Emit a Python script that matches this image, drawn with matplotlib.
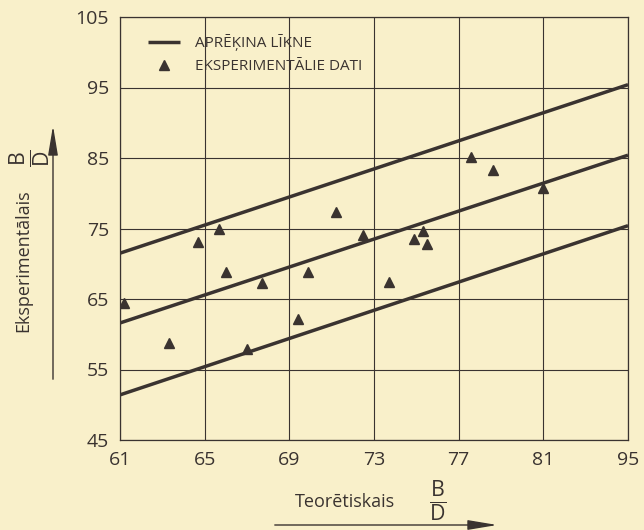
import matplotlib
matplotlib.use("Agg")
import matplotlib.pyplot as plt

# x ticks: evenly spaced, last label printed as 95 in the original
x_ticks = [61, 65, 69, 73, 77, 81, 85]
x_tick_labels = ["61", "65", "69", "73", "77", "81", "95"]
y_ticks = [45, 55, 65, 75, 85, 95, 105]

# calculated curves (three straight lines), endpoints
line_x = [61, 85]
line_upper = [71.5, 95.4]
line_middle = [61.6, 85.4]
line_lower = [51.4, 75.4]

# experimental points
exp_x = [61.2, 63.3, 64.7, 65.7, 66.0, 67.7, 69.9, 69.4, 67.0, 71.2,
         72.5, 74.9, 75.3, 75.5, 77.6, 78.6, 81.0, 73.7]
exp_y = [64.5, 58.8, 73.1, 74.9, 68.9, 67.2, 68.9, 62.2, 57.9, 77.3,
         74.1, 73.5, 74.6, 72.8, 85.1, 83.3, 80.7, 67.4]

BG = "#f9f0ca"
INK = "#3a3330"

plt.rcParams['font.family'] = ['Open Sans', 'DejaVu Sans']
plt.rcParams['mathtext.fontset'] = 'custom'
plt.rcParams['mathtext.rm'] = 'Open Sans'

fig = plt.figure(figsize=(6.44, 5.30), dpi=100, facecolor=BG)
ax = fig.add_axes([120 / 644, 90 / 530, 508 / 644, 423 / 530])
ax.set_facecolor(BG)

ax.plot(line_x, line_upper, color=INK, lw=2.5, solid_capstyle='butt', label="APRĒĶINA LĪKNE", zorder=3)
ax.plot(line_x, line_middle, color=INK, lw=2.5, solid_capstyle='butt', zorder=3)
ax.plot(line_x, line_lower, color=INK, lw=2.5, solid_capstyle='butt', zorder=3)
ax.plot(exp_x, exp_y, linestyle='none', marker='^', ms=7, color=INK,
        label="EKSPERIMENTĀLIE DATI", zorder=4)

ax.set_xlim(61, 85)
ax.set_ylim(45, 105)
ax.set_xticks(x_ticks)
ax.set_xticklabels(x_tick_labels)
ax.set_yticks(y_ticks)
ax.grid(True, color=INK, lw=0.8)
ax.set_axisbelow(True)
ax.tick_params(length=0, labelsize=14, colors=INK, pad=8)
for s in ax.spines.values():
    s.set_color(INK)
    s.set_linewidth(0.9)

leg = ax.legend(loc='upper left', bbox_to_anchor=(0.055, 0.96), frameon=False,
                fontsize=11, handlelength=2.1, handletextpad=1.0,
                labelspacing=0.55, borderaxespad=0, borderpad=0,
                labelcolor=INK)

# axis labels with arrows
fig.text(23 / 644, 1 - 261 / 530, "Eksperimentālais", rotation=90,
         ha='center', va='center', fontsize=13, color=INK)
fig.text(30 / 644, 1 - 158 / 530, r"$\frac{\mathrm{B}}{\mathrm{D}}$", rotation=90,
         ha='center', va='center', fontsize=22, color=INK)
fig.text(345 / 644, 1 - 502 / 530, "Teorētiskais", ha='center', va='center',
         fontsize=13, color=INK)
fig.text(438 / 644, 1 - 501 / 530, r"$\frac{\mathrm{B}}{\mathrm{D}}$",
         ha='center', va='center', fontsize=22, color=INK)

arrow = dict(arrowstyle='-|>,head_length=1.8,head_width=0.3', color=INK, lw=1.0)
fig.add_artist(matplotlib.patches.FancyArrowPatch(
    (53 / 644, 1 - 382 / 530), (53 / 644, 1 - 123 / 530),
    transform=fig.transFigure, mutation_scale=10, **arrow))
fig.add_artist(matplotlib.patches.FancyArrowPatch(
    (272 / 644, 1 - 525 / 530), (500 / 644, 1 - 525 / 530),
    transform=fig.transFigure, mutation_scale=10, **arrow))

fig.savefig("out.png", dpi=100, facecolor=BG)
